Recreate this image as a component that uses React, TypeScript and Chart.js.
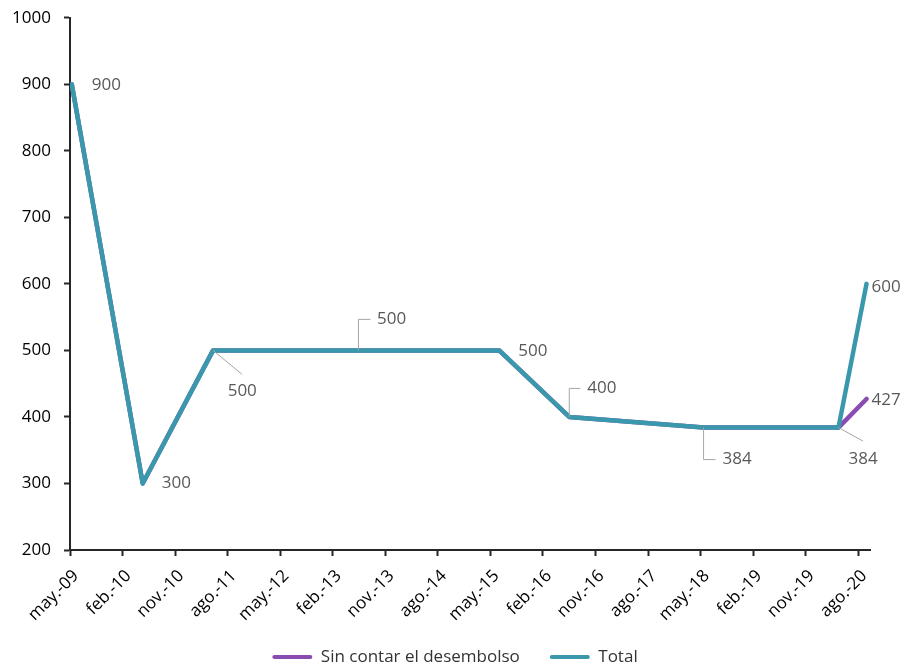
import React, { useEffect, useRef } from 'react';
import { Chart, registerables } from 'chart.js';

Chart.register(...registerables);

// ---- data ----
const xTickLabels = [
  'may.-09', 'feb.-10', 'nov.-10', 'ago.-11', 'may.-12', 'feb.-13', 'nov.-13', 'ago.-14',
  'may.-15', 'feb.-16', 'nov.-16', 'ago.-17', 'may.-18', 'feb.-19', 'nov.-19', 'ago.-20',
];
const xTickStep = 9; // months between ticks
const xAxisMax = 137; // months since may.-09
// observation dates, in months since may.-09
const monthOffsets = [0.3, 12.45, 24.5, 49.4, 73.5, 85.5, 108.5, 131.6, 136.4];
const totalValues = [900, 300, 500, 500, 500, 400, 384, 384, 600];
const sinContarValues = [900, 300, 500, 500, 500, 400, 384, 384, 427];
const seriesNames = ['Sin contar el desembolso', 'Total'];
const yMin = 200;
const yMax = 1000;
const yStep = 100;

// ---- styles ----
const FONT = "'Open Sans', sans-serif";
const PURPLE = '#8A4CB1';
const TEAL = '#3A98AD';
const AXIS = '#262626';
const LABEL = '#595959';
const LEADER = '#A6A6A6';

// data-label placement (ds = dataset index, i = point index)
const labelSpecs: any[] = [
  { ds: 1, i: 0, dx: 20, dy: 1 },
  { ds: 1, i: 1, dx: 19, dy: 0 },
  { ds: 1, i: 2, dx: 14.6, dy: 41, leader: 'line', lx: 29, ly: 24 },
  { ds: 1, i: 3, dx: 18.5, dy: -31, leader: 'elbow', lx: 12 },
  { ds: 1, i: 4, dx: 19, dy: 1 },
  { ds: 1, i: 5, dx: 18, dy: -28.5, leader: 'elbow', lx: 11 },
  { ds: 1, i: 6, dx: 19, dy: 32, leader: 'elbow', lx: 12 },
  { ds: 1, i: 7, dx: 10, dy: 32, leader: 'line', lx: 24.5, ly: 13.5 },
  { ds: 0, i: 8, dx: 5, dy: 1.5 },
  { ds: 1, i: 8, dx: 5, dy: 3 },
];

const labelPlugin = {
  id: 'pointLabels',
  afterLayout(chart: any) {
    const lg = chart.legend;
    if (lg) {
      lg.left += 20;
      lg.right += 20;
    }
  },
  afterDatasetsDraw(chart: any) {
    const ctx = chart.ctx;
    ctx.save();
    for (const s of labelSpecs) {
      const meta = chart.getDatasetMeta(s.ds);
      const pt = meta.data[s.i];
      if (!pt) continue;
      const px = pt.x;
      const py = pt.y;
      const v = chart.data.datasets[s.ds].data[s.i].y;
      ctx.strokeStyle = LEADER;
      ctx.lineWidth = 1;
      if (s.leader === 'line') {
        ctx.beginPath();
        ctx.moveTo(px, py);
        ctx.lineTo(px + s.lx, py + s.ly);
        ctx.stroke();
      } else if (s.leader === 'elbow') {
        ctx.beginPath();
        ctx.moveTo(px, py);
        ctx.lineTo(px, py + s.dy);
        ctx.lineTo(px + s.lx, py + s.dy);
        ctx.stroke();
      }
      ctx.fillStyle = LABEL;
      ctx.font = `17px ${FONT}`;
      ctx.textAlign = 'left';
      ctx.textBaseline = 'middle';
      ctx.fillText(String(v), px + s.dx, py + s.dy);
    }
    ctx.restore();
  },
};

export default function App() {
  const ref = useRef<HTMLCanvasElement>(null);
  useEffect(() => {
    const mk = (vals: number[]) => monthOffsets.map((x, i) => ({ x, y: vals[i] }));
    const chart = new Chart(ref.current as HTMLCanvasElement, {
      type: 'line',
      data: {
        datasets: [
          {
            label: seriesNames[0],
            data: mk(sinContarValues),
            borderColor: PURPLE,
            backgroundColor: PURPLE,
            borderWidth: 4.5,
            pointRadius: 0,
            borderCapStyle: 'round',
            borderJoinStyle: 'round',
            order: 1,
          },
          {
            label: seriesNames[1],
            data: mk(totalValues),
            borderColor: TEAL,
            backgroundColor: TEAL,
            borderWidth: 4.5,
            pointRadius: 0,
            borderCapStyle: 'round',
            borderJoinStyle: 'round',
            order: 0,
          },
        ],
      },
      options: {
        animation: false,
        responsive: true,
        maintainAspectRatio: false,
        layout: { padding: { top: 17.7, right: 32, bottom: -5.5, left: 0 } },
        scales: {
          x: {
            type: 'linear',
            min: 0,
            max: xAxisMax,
            afterBuildTicks: (s: any) => {
              s.ticks = xTickLabels.map((_, i) => ({ value: i * xTickStep }));
            },
            afterFit: (s: any) => {
              s.height = 68.5;
              s.paddingLeft = 0;
              s.paddingRight = 0;
              s._computeLabelArea = () => undefined;
            },
            ticks: {
              autoSkip: false,
              maxRotation: 45,
              minRotation: 45,
              padding: 10,
              labelOffset: 6,
              color: '#000',
              font: { family: FONT, size: 17 },
              callback: (v: any) => xTickLabels[Math.round(Number(v) / xTickStep)],
            },
            grid: { drawOnChartArea: false, tickLength: 6, tickWidth: 2, tickColor: AXIS },
            border: { color: AXIS, width: 2 },
          },
          y: {
            min: yMin,
            max: yMax,
            afterFit: (s: any) => {
              s.width = 70;
              s.paddingTop = 0;
              s.paddingBottom = 0;
            },
            ticks: {
              stepSize: yStep,
              padding: 13,
              color: '#000',
              font: { family: FONT, size: 17 },
              callback: (v: any) => String(v),
            },
            grid: { drawOnChartArea: false, tickLength: 6, tickWidth: 2, tickColor: AXIS },
            border: { color: AXIS, width: 2 },
          },
        },
        plugins: {
          tooltip: { enabled: false },
          legend: {
            position: 'bottom',
            labels: {
              boxWidth: 40,
              boxHeight: 4,
              padding: 30,
              color: '#333',
              font: { family: FONT, size: 17 },
              useBorderRadius: true,
              borderRadius: 2,
              sort: (a: any, b: any) => a.datasetIndex - b.datasetIndex,
              generateLabels: (c: any) =>
                (Chart.defaults.plugins.legend.labels.generateLabels as any)(c).map((it: any) => {
                  const ds = c.data.datasets[it.datasetIndex];
                  return { ...it, fillStyle: ds.borderColor, strokeStyle: ds.borderColor, lineWidth: 0 };
                }),
            },
          },
        },
      } as any,
      plugins: [labelPlugin],
    });
    return () => chart.destroy();
  }, []);
  return (
    <div style={{ position: 'absolute', left: 0, top: 0, width: 902, height: 670 }}>
      <canvas ref={ref} />
    </div>
  );
}
